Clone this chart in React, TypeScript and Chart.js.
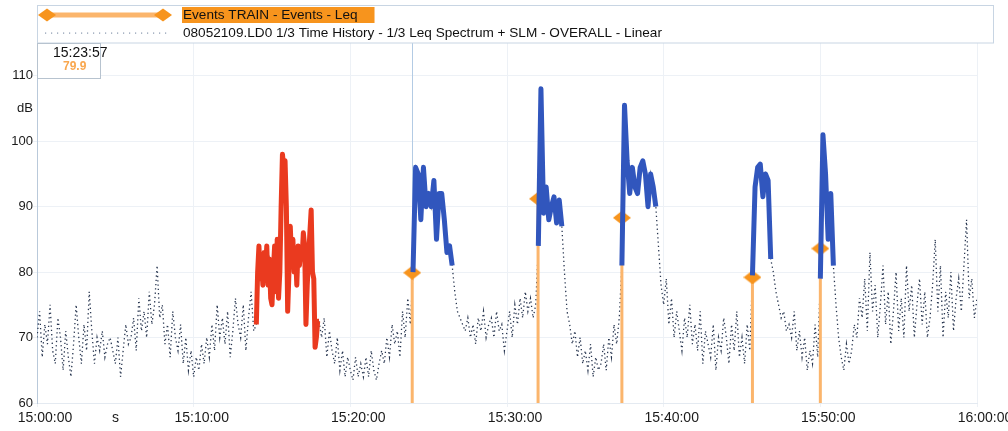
import React, { useEffect, useRef } from 'react';
import { Chart, registerables } from 'chart.js';

Chart.register(...registerables);

// ---------- DATA ----------
const baseClockSeconds = 15 * 3600; // 15:00:00
const sampleStep = 10; // seconds between samples

// Overall Leq time history (dB), one value every 10 s from 15:00:00 to 16:00:00
const levels: number[] = [
  70, 74, 67, 72, 69, 75,
  68, 66, 73, 70, 65, 71,
  67, 64, 69, 75, 70, 66,
  72, 68, 77, 71, 66, 70,
  68, 71, 67, 69, 70, 68,
  66, 70, 64, 68, 72, 69,
  70, 73, 68, 76, 71, 74,
  70, 77, 72, 75, 81, 73,
  75, 69, 72, 67, 74, 70,
  68, 72, 66, 70, 65, 68,
  64, 67, 65, 69, 66, 70,
  67, 72, 68, 75, 70, 73,
  69, 74, 67, 71, 76, 72,
  70, 75, 68, 73, 77, 71,
  72, 84, 82, 83, 84, 82,
  75, 84, 85, 80, 98, 97,
  74, 87, 85, 83, 84, 83,
  86, 72, 82, 89.5, 79, 70,
  72.5, 70, 73, 67, 71, 68,
  66, 70, 65, 68, 64, 67,
  65, 63.5, 67, 64, 66, 64,
  67, 64, 68, 65, 63.5, 66,
  68, 66, 70, 67, 72, 69,
  71, 67, 74, 70, 76, 72,
  80, 96, 95, 88, 96, 90,
  92, 90, 94, 85, 92, 92,
  88, 83, 84, 81, 77, 74,
  73, 72, 71, 73, 70, 72,
  69, 73, 71, 74, 70, 72,
  73, 70, 74, 71, 72, 68,
  71, 74, 70, 75, 72, 76,
  73, 77, 74, 76, 73, 75,
  84, 108, 89, 93, 88, 90,
  91.5, 87.5, 91, 87, 80, 74,
  72, 69, 71, 67, 70, 66,
  68, 65, 69, 64, 67, 65,
  66, 69, 65, 70, 67, 72,
  69, 73, 81, 105.5, 97, 92,
  96, 93, 92, 96, 97, 95,
  90, 95, 93, 90, 84, 78,
  75, 79, 72, 76, 70, 74,
  71, 68, 73, 70, 75, 69,
  72, 68, 74, 66, 71, 69,
  67, 72, 65, 70, 68, 73,
  70, 66, 72, 68, 74, 67,
  70, 66, 72, 68, 79.5, 93,
  96, 96.5, 91.5, 95, 94, 82,
  80, 77, 75, 73, 74, 71,
  72, 70, 74, 68, 71, 67,
  70, 65, 68, 66, 72, 67,
  79, 101, 95, 85, 92, 81,
  75, 70, 67, 65, 69, 66,
  68, 72, 70, 76, 73, 79,
  71, 83, 74, 78, 70, 75,
  81, 72, 77, 69, 74, 80,
  71, 76, 70, 81, 74, 78,
  70, 75, 79, 72, 77, 70,
  73, 78, 85, 74, 81, 70,
  77, 73, 80, 71, 76, 79,
  74, 81, 88, 76, 79, 73,
  76,
];

// Highlighted (red) event: finer 5 s detail starting at 15:14:00
const redEventStart = 840;
const redEventStep = 5;
const redEventLevels: number[] = [
  72, 80, 84, 79, 82, 78, 83, 80, 84, 78, 82, 76,
  75, 80, 84, 77, 85, 76, 80, 90, 98, 96, 97, 90,
  74, 80, 87, 82, 85, 80, 83, 78, 84, 81, 83, 82,
  86, 84, 72, 78, 82, 86, 89.5, 80, 79, 68.5, 70, 72.5,
  72.5,
];

// TRAIN events: start (s after 15:00:00), end, Leq (dB)
const eventStarts = [1437, 1919, 2240, 2740, 3000];
const eventEnds = [1590, 2010, 2370, 2810, 3050];
const eventLeq = [79.9, 91.2, 88.3, 79.2, 83.6];

// Axis ticks
const xTickValues = [0, 600, 1200, 1800, 2400, 3000, 3600];
const xUnitTick = 270;
const xUnitLabel = 's';
const yTickValues = [60, 70, 80, 90, 100, 110];
const yUnitTick = 105;
const yUnitLabel = 'dB';

// Cursor readout (first TRAIN event)
const cursorIndex = 0;

const legendLabels = [
  'Events TRAIN - Events - Leq',
  '08052109.LD0 1/3 Time History - 1/3 Leq Spectrum + SLM - OVERALL - Linear',
];

// ---------- HELPERS ----------
const FONT = "'Liberation Sans', Arial, Helvetica, sans-serif";
const ORANGE = '#f7941d';
const ORANGE_LINE = '#fbb56c';
const BLUE = '#3156bd';
const RED = '#ea3a1f';
const DOT = '#283650';

const fmtTime = (s: number) => {
  const t = baseClockSeconds + Math.round(s);
  const h = Math.floor(t / 3600);
  const m = Math.floor((t % 3600) / 60);
  const sec = t % 60;
  return [h, m, sec].map((v) => String(v).padStart(2, '0')).join(':');
};

const drawDiamond = (ctx: CanvasRenderingContext2D, x: number, y: number, w: number, h: number) => {
  ctx.beginPath();
  ctx.moveTo(x - w / 2, y);
  ctx.lineTo(x, y - h / 2);
  ctx.lineTo(x + w / 2, y);
  ctx.lineTo(x, y + h / 2);
  ctx.closePath();
  ctx.fill();
};

export default function App() {
  const canvasRef = useRef<HTMLCanvasElement | null>(null);

  useEffect(() => {
    if (!canvasRef.current) return;

    const diamond = document.createElement('canvas');
    diamond.width = 18;
    diamond.height = 14;
    const dctx = diamond.getContext('2d')!;
    dctx.fillStyle = ORANGE;
    drawDiamond(dctx, 9, 7, 18, 14);

    const times = levels.map((_, i) => i * sampleStep);
    const history = levels.map((v, i) => ({ x: times[i], y: v }));

    const inBlue = (t: number) =>
      eventStarts.some((s, k) => t >= s - 5 && t <= eventEnds[k]);
    const blueData = levels.map((v, i) => ({ x: times[i], y: inBlue(times[i]) ? v : null }));
    const redData = redEventLevels.map((v, i) => ({ x: redEventStart + i * redEventStep, y: v }));

    const eventData: { x: number; y: number | null }[] = [];
    eventStarts.forEach((s, k) => {
      eventData.push({ x: s, y: 60 });
      eventData.push({ x: s, y: eventLeq[k] });
      eventData.push({ x: s, y: null });
    });

    const overlay = {
      id: 'overlay',
      beforeDatasetsDraw(chart: any) {
        const { ctx, chartArea, scales } = chart;
        const x = Math.round(scales.x.getPixelForValue(eventStarts[cursorIndex])) + 0.5;
        ctx.save();
        ctx.strokeStyle = '#b3cbe4';
        ctx.lineWidth = 1;
        ctx.beginPath();
        ctx.moveTo(x, chartArea.top);
        ctx.lineTo(x, chartArea.bottom);
        ctx.stroke();
        ctx.restore();
      },
      afterDraw(chart: any) {
        const { ctx, chartArea } = chart;
        const left = chartArea.left;
        ctx.save();
        // legend box
        ctx.fillStyle = '#ffffff';
        ctx.fillRect(left + 0.5, 5.5, 956, 37);
        ctx.strokeStyle = '#c8d5e3';
        ctx.lineWidth = 1;
        ctx.strokeRect(left + 0.5, 5.5, 956, 37.5);
        // row 1: events line with diamonds
        ctx.strokeStyle = ORANGE_LINE;
        ctx.lineWidth = 5;
        ctx.beginPath();
        ctx.moveTo(left + 10, 15);
        ctx.lineTo(left + 126, 15);
        ctx.stroke();
        ctx.fillStyle = ORANGE;
        drawDiamond(ctx, left + 10, 15, 18, 13);
        drawDiamond(ctx, left + 126, 15, 18, 13);
        ctx.font = `13.6px ${FONT}`;
        ctx.textBaseline = 'middle';
        const w1 = ctx.measureText(legendLabels[0]).width;
        ctx.fillStyle = ORANGE;
        ctx.fillRect(left + 145, 7, w1 + 18, 16);
        ctx.fillStyle = '#111';
        ctx.fillText(legendLabels[0], left + 146, 15.5);
        // row 2: dotted history line
        ctx.fillStyle = '#8796ad';
        for (let x = left + 8; x <= left + 128; x += 6) ctx.fillRect(x, 32.5, 1.2, 1.2);
        ctx.fillStyle = '#111';
        ctx.fillText(legendLabels[1], left + 146, 33.5);

        // cursor readout box
        ctx.lineWidth = 1;
        ctx.fillStyle = '#ffffff';
        ctx.fillRect(left + 0.5, chartArea.top + 0.5, 63, 35);
        ctx.strokeStyle = '#b7c3cf';
        ctx.strokeRect(left + 0.5, chartArea.top + 0.5, 63, 35);
        ctx.fillStyle = '#111';
        ctx.font = `14px ${FONT}`;
        ctx.textAlign = 'left';
        ctx.fillText(fmtTime(eventStarts[cursorIndex]), left + 16, chartArea.top + 10);
        ctx.fillStyle = '#f9a74e';
        ctx.font = `bold 12px ${FONT}`;
        ctx.fillText(eventLeq[cursorIndex].toFixed(1), left + 26, chartArea.top + 24);
        ctx.restore();
      },
    };

    const chart = new Chart(canvasRef.current, {
      type: 'line',
      data: {
        datasets: [
          {
            label: 'red event',
            data: redData as any,
            borderColor: RED,
            borderWidth: 5,
            pointRadius: 0,
            spanGaps: false,
            order: 0,
            borderJoinStyle: 'round',
          },
          {
            label: 'train events history',
            data: blueData as any,
            borderColor: BLUE,
            borderWidth: 5,
            pointRadius: 0,
            spanGaps: false,
            order: 0,
            borderJoinStyle: 'round',
          },
          {
            label: legendLabels[0],
            data: eventData as any,
            borderColor: ORANGE_LINE,
            borderWidth: 3,
            pointStyle: diamond as any,
            pointRadius: (c: any) => (c.dataIndex % 3 === 1 ? 8 : 0),
            pointHoverRadius: 0,
            spanGaps: false,
            order: 1,
          },
          {
            label: legendLabels[1],
            data: history as any,
            borderColor: DOT,
            borderWidth: 1.3,
            borderDash: [1.3, 3],
            pointRadius: 0,
            order: 2,
          },
        ],
      },
      options: {
        animation: false,
        responsive: true,
        maintainAspectRatio: false,
        layout: { padding: { top: 43, right: 63, bottom: 0, left: 0 } },
        plugins: {
          legend: { display: false },
          tooltip: { enabled: false },
        },
        scales: {
          x: {
            type: 'linear',
            min: 0,
            max: 3600,
            afterBuildTicks: (s: any) => {
              s.ticks = [...xTickValues, xUnitTick].sort((a, b) => a - b).map((v) => ({ value: v }));
            },
            afterFit: (s: any) => {
              s.height = 28;
            },
            ticks: {
              autoSkip: false,
              maxRotation: 0,
              labelOffset: 8,
              padding: 3,
              color: '#1a1a1a',
              font: { family: FONT, size: 14 },
              callback: (v: any) => (v === xUnitTick ? xUnitLabel : fmtTime(Number(v))),
            },
            grid: {
              color: (c: any) => (c.tick && c.tick.value === xUnitTick ? 'rgba(0,0,0,0)' : '#edf1f6'),
              tickLength: 4,
            },
            border: { color: '#e4eaf1' },
          },
          y: {
            type: 'linear',
            min: 60,
            max: 115,
            afterBuildTicks: (s: any) => {
              s.ticks = [...yTickValues, yUnitTick].sort((a, b) => a - b).map((v) => ({ value: v }));
            },
            afterFit: (s: any) => {
              s.width = 37;
            },
            ticks: {
              autoSkip: false,
              padding: 0,
              color: '#1a1a1a',
              font: { family: FONT, size: 13 },
              callback: (v: any) => (v === yUnitTick ? yUnitLabel : String(v)),
            },
            grid: {
              color: (c: any) => (c.tick && c.tick.value === yUnitTick ? 'rgba(0,0,0,0)' : '#edf1f6'),
              tickLength: 4,
            },
            border: { color: '#b9c9da' },
          },
        },
      },
      plugins: [overlay],
    });

    return () => chart.destroy();
  }, []);

  return (
    <div style={{ position: 'absolute', left: 0, top: 0, width: 1008, height: 431, overflow: 'hidden', background: '#fff' }}>
      <div style={{ position: 'relative', width: 1040, height: 431 }}>
        <canvas ref={canvasRef} />
      </div>
    </div>
  );
}
